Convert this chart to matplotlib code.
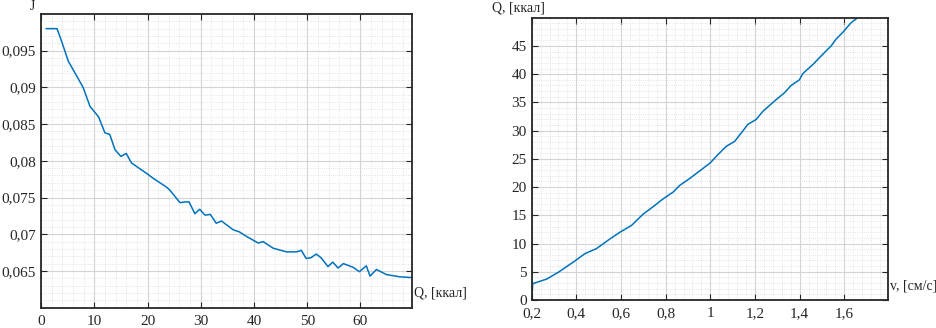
import numpy as np
import matplotlib.pyplot as plt
from matplotlib.ticker import FuncFormatter, AutoMinorLocator

plt.rcParams['font.family'] = ['Liberation Serif', 'DejaVu Serif']
plt.rcParams['font.size'] = 11

# left chart: J vs Q
q_left = [1, 3, 3.9, 5.1, 7.9, 9.2, 10.8, 12, 12.9, 13.9, 15, 16, 17, 19.8, 21.1,
          23.6, 24.2, 26.1, 27, 27.8, 28.9, 29.8, 30.8, 31.8, 32.9, 33.9, 36.1,
          37.3, 38.6, 40.8, 41.7, 43.6, 46.1, 48, 48.9, 49.8, 50.7, 51.7, 52.6,
          53.9, 54.8, 55.8, 56.8, 58.6, 59.8, 61.1, 61.8, 63, 64.9, 67.4, 69.7]
j_left = [0.0980, 0.0980, 0.0962, 0.0936, 0.0900, 0.0874, 0.0860, 0.0838, 0.0836,
          0.0815, 0.0806, 0.0810, 0.0797, 0.0783, 0.0776, 0.0764, 0.0760, 0.0743,
          0.0744, 0.0744, 0.0728, 0.0734, 0.0726, 0.0727, 0.0715, 0.0718, 0.0706,
          0.0703, 0.0697, 0.0688, 0.0690, 0.0681, 0.0676, 0.0676, 0.0678, 0.0667,
          0.0668, 0.0673, 0.0668, 0.0656, 0.0662, 0.0654, 0.0660, 0.0655, 0.0649,
          0.0657, 0.0643, 0.0652, 0.0645, 0.0642, 0.0641]

# right chart: Q vs v
v_right = [0.2, 0.205, 0.267, 0.319, 0.386, 0.438, 0.49, 0.55, 0.595, 0.647, 0.699,
           0.743, 0.788, 0.833, 0.863, 0.907, 0.967, 1.0, 1.034, 1.071, 1.109,
           1.139, 1.168, 1.206, 1.235, 1.295, 1.332, 1.362, 1.399, 1.414, 1.459,
           1.503, 1.541, 1.563, 1.593, 1.630, 1.66]
q_right = [0, 2.9, 3.7, 4.9, 6.7, 8.2, 9.1, 10.8, 12.0, 13.2, 15.2, 16.5, 17.9,
           19.1, 20.3, 21.5, 23.3, 24.3, 25.75, 27.2, 28.1, 29.6, 31.1, 32.0, 33.4,
           35.5, 36.7, 38.0, 39.0, 40.1, 41.7, 43.5, 45.0, 46.2, 47.4, 49.1, 50.0]

left_xticks = [0, 10, 20, 30, 40, 50, 60]
left_yticks = [0.065, 0.07, 0.075, 0.08, 0.085, 0.09, 0.095]
right_xticks = [0.2, 0.4, 0.6, 0.8, 1.0, 1.2, 1.4, 1.6]
right_yticks = [0, 5, 10, 15, 20, 25, 30, 35, 40, 45]

line_color = '#0072BD'
comma = FuncFormatter(lambda v, pos: ('%g' % v).replace('.', ','))


def style(ax):
    ax.grid(which='major', color='#d4d4d4', linewidth=0.8)
    ax.grid(which='minor', color='#dcdcdc', linewidth=0.6, linestyle=':')
    ax.xaxis.set_minor_locator(AutoMinorLocator(5))
    ax.yaxis.set_minor_locator(AutoMinorLocator(5))
    ax.tick_params(which='both', direction='in', top=True, right=True, colors='#262626')
    ax.tick_params(which='major', length=4, width=0.8, labelsize=11, labelcolor='#262626')
    ax.tick_params(which='minor', length=0)
    ax.tick_params(axis='x', pad=5)
    ax.xaxis.set_major_formatter(comma)
    ax.yaxis.set_major_formatter(comma)
    for s in ax.spines.values():
        s.set_color('#262626')
        s.set_linewidth(1.3)
    ax.set_axisbelow(True)


fig = plt.figure(figsize=(9.37, 3.28), dpi=100)

ax1 = fig.add_axes([0.0438, 0.062, 0.396, 0.8955])
ax1.plot(q_left, j_left, color=line_color, lw=1.1)
ax1.set_xlim(0, 69.7)
ax1.set_ylim(0.06, 0.1)
ax1.set_xticks(left_xticks)
ax1.set_yticks(left_yticks)
style(ax1)
ax1.text(-0.022, 1.026, 'J', transform=ax1.transAxes, fontsize=10, ha='center', va='center', color='#262626')
ax1.text(1.004, 0.05, 'Q, [ккал]', transform=ax1.transAxes, fontsize=10, ha='left', va='center', color='#262626')

ax2 = fig.add_axes([0.5674, 0.0854, 0.3806, 0.8588])
ax2.plot(v_right, q_right, color=line_color, lw=1.1)
ax2.set_xlim(0.2, 1.797)
ax2.set_ylim(0, 49.9)
ax2.set_xticks(right_xticks)
ax2.set_yticks(right_yticks)
style(ax2)
ax2.text(-0.112, 1.035, 'Q, [ккал]', transform=ax2.transAxes, fontsize=10, ha='left', va='center', color='#262626')
ax2.text(1.004, 0.05, 'v, [см/с]', transform=ax2.transAxes, fontsize=10, ha='left', va='center', color='#262626')

fig.savefig('out.png', dpi=100)
